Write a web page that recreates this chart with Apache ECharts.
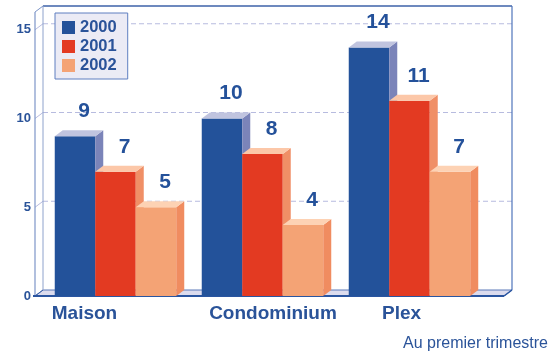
<!DOCTYPE html>
<html>
<head>
<meta charset="utf-8">
<script src="https://cdn.jsdelivr.net/npm/echarts@6/dist/echarts.min.js"></script>
<style>html,body{margin:0;padding:0;background:#fff;}#c{width:553px;height:356px;}</style>
</head>
<body>
<div id="c"></div>
<script>
const categories = ['Maison', 'Condominium', 'Plex'];
const years = ['2000', '2001', '2002'];
const values2000 = [9, 10, 14];
const values2001 = [7, 8, 11];
const values2002 = [5, 4, 7];
const yTicks = [0, 5, 10, 15];
const yMax = 16;
const subtitle = 'Au premier trimestre';

const seriesValues = [values2000, values2001, values2002];
const FONT = '"Liberation Sans", Arial, sans-serif';
const TXT = '#2a5399';
const palette = [
  { front: '#23529a', side: '#7b84b9', top: '#c0c4df' },
  { front: '#e33a22', side: '#f08f66', top: '#fcc7a8' },
  { front: '#f4a375', side: '#f08c60', top: '#fdd2b4' }
];
const DX = 8, DY = -6;

const chart = echarts.init(document.getElementById('c'));

function renderFrame(params, api) {
  const cs = params.coordSys;
  const fl = cs.x - 7, fr = cs.x + cs.width + 21;
  const bl = fl + DX, br = fr + DX;
  const y0 = api.coord([0, 0])[1];
  const yT = api.coord([0, yMax])[1];
  const ch = [];
  ch.push({ type: 'rect', shape: { x: bl, y: yT + DY, width: br - bl, height: y0 - yT }, style: { fill: '#ffffff' } });
  ch.push({ type: 'polygon', shape: { points: [[fl, yT], [bl, yT + DY], [bl, y0 + DY], [fl, y0]] }, style: { fill: '#ffffff' } });
  yTicks.forEach(t => {
    if (t === 0) return;
    const y = api.coord([0, t])[1];
    ch.push({ type: 'line', shape: { x1: bl, y1: y + DY, x2: br, y2: y + DY }, style: { stroke: '#b7bbdf', lineWidth: 1, lineDash: [5, 3] } });
    ch.push({ type: 'line', shape: { x1: fl, y1: y, x2: bl, y2: y + DY }, style: { stroke: '#b7bbdf', lineWidth: 1 } });
  });
  ch.push({ type: 'polygon', shape: { points: [[fl, y0], [fr, y0], [br, y0 + DY], [bl, y0 + DY]] }, style: { fill: '#dcdcee', stroke: '#5a78b8', lineWidth: 1 } });
  ch.push({ type: 'line', shape: { x1: bl, y1: yT + DY, x2: br, y2: yT + DY }, style: { stroke: '#3d62a8', lineWidth: 1.5 } });
  ch.push({ type: 'line', shape: { x1: br, y1: yT + DY, x2: br, y2: y0 + DY }, style: { stroke: '#4f75bb', lineWidth: 1.2 } });
  ch.push({ type: 'line', shape: { x1: bl, y1: yT + DY, x2: bl, y2: y0 + DY }, style: { stroke: '#8ea2cc', lineWidth: 1 } });
  ch.push({ type: 'line', shape: { x1: fl, y1: yT, x2: fl, y2: y0 }, style: { stroke: '#7d95c8', lineWidth: 1.2 } });
  ch.push({ type: 'line', shape: { x1: fl, y1: yT, x2: bl, y2: yT + DY }, style: { stroke: '#7d95c8', lineWidth: 1 } });
  ch.push({ type: 'line', shape: { x1: fl, y1: y0, x2: bl, y2: y0 + DY }, style: { stroke: '#3d62a8', lineWidth: 1 } });
  ch.push({ type: 'line', shape: { x1: fr, y1: y0, x2: br, y2: y0 + DY }, style: { stroke: '#2a55a0', lineWidth: 1.5 } });
  ch.push({ type: 'line', shape: { x1: fl - 2, y1: y0, x2: fr, y2: y0 }, style: { stroke: '#2a55a0', lineWidth: 2 } });
  return { type: 'group', children: ch };
}

function makeBarRenderer(s) {
  const col = palette[s];
  return function (params, api) {
    const ci = api.value(0), v = api.value(1);
    const base = api.coord([ci, 0]);
    const top = api.coord([ci, v]);
    const band = api.size([1, 0])[0];
    const bw = band * 0.2755;
    const x0 = base[0] - 1.5 * bw + s * bw;
    const x1 = x0 + bw;
    const yb = base[1], yt = top[1];
    return {
      type: 'group',
      children: [
        { type: 'rect', shape: { x: x0, y: yt, width: bw, height: yb - yt }, style: { fill: col.front } },
        { type: 'polygon', shape: { points: [[x1, yb], [x1, yt], [x1 + DX, yt + DY], [x1 + DX, yb + DY]] }, style: { fill: col.side } },
        { type: 'polygon', shape: { points: [[x0, yt], [x1, yt], [x1 + DX, yt + DY], [x0 + DX, yt + DY]] }, style: { fill: col.top } },
        { type: 'text', x: (x0 + x1) / 2 + 9, y: yt - 25, style: { text: String(v), fill: '#24519a', font: 'bold 21px ' + FONT, align: 'center', verticalAlign: 'middle' } }
      ]
    };
  };
}

const series = [{
  type: 'custom', name: 'frame', z: 1, silent: true,
  renderItem: renderFrame, data: [[0, 0]], encode: { x: 0, y: 1 }
}];
years.forEach((yr, s) => {
  series.push({
    type: 'custom', name: yr, z: 2 + s,
    itemStyle: { color: palette[s].front },
    renderItem: makeBarRenderer(s),
    encode: { x: 0, y: 1 },
    data: seriesValues[s].map((v, i) => [i, v])
  });
});

const labelShift = { Maison: [0, 62, 0, 0], Condominium: [0, 0, 0, 21], Plex: [0, 16, 0, 0] };
const rich = {};
categories.forEach((c, i) => {
  rich['c' + i] = { padding: labelShift[c], fontSize: 19, fontWeight: 'bold', color: TXT, fontFamily: FONT };
});

chart.setOption({
  animation: false,
  backgroundColor: '#ffffff',
  title: {
    text: subtitle, right: 5, top: 336, padding: 0,
    textStyle: { fontSize: 16, fontWeight: 'normal', color: TXT, fontFamily: FONT }
  },
  legend: {
    data: years.map((y, s) => ({ name: y, icon: 'rect', itemStyle: { color: palette[s].front } })),
    orient: 'vertical', left: 55, top: 13,
    itemWidth: 13, itemHeight: 13, itemGap: 2,
    padding: [6, 11, 5, 7],
    backgroundColor: '#ebebf5', borderColor: '#5f7fc0', borderWidth: 1,
    textStyle: { fontSize: 16.5, fontWeight: 'bold', color: TXT, fontFamily: FONT, lineHeight: 16 },
    selectedMode: false
  },
  grid: { left: 42, right: 70, top: 12, bottom: 60 },
  xAxis: {
    type: 'category', data: categories,
    axisLine: { show: false }, axisTick: { show: false }, splitLine: { show: false },
    axisLabel: {
      margin: 8, interval: 0,
      formatter: (val, idx) => '{c' + idx + '|' + val + '}',
      rich: rich
    }
  },
  yAxis: {
    type: 'value', min: 0, max: yMax, interval: 5,
    axisLine: { show: false }, axisTick: { show: false }, splitLine: { show: false },
    axisLabel: { showMaxLabel: false, margin: 11, fontSize: 13, fontWeight: 'bold', color: TXT, fontFamily: FONT }
  },
  series: series
});
</script>
</body>
</html>
